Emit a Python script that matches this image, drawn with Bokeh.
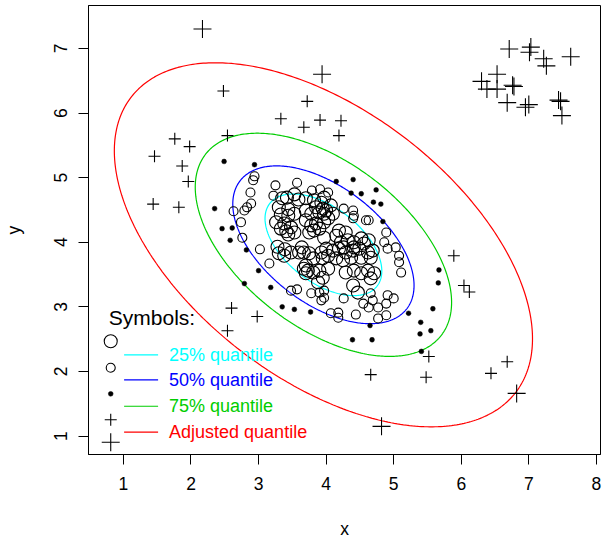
import math
from bokeh.plotting import figure
from bokeh.models import Range1d, FixedTicker, Label
from bokeh.embed import file_html
from bokeh.resources import INLINE

# ---- data ----
big_circle_x = [3.35, 3.42, 3.53, 3.59, 3.70, 3.82, 3.93, 3.85, 3.95, 3.30, 3.44, 3.33, 3.44, 3.53, 3.70,
                3.78, 3.90, 3.26, 3.38, 3.33, 3.41, 3.48, 3.53, 3.44, 3.70, 3.78, 3.85, 3.82, 3.90, 3.75,
                3.97, 3.97, 3.28, 3.39, 3.64, 3.97, 4.07, 4.00, 4.10, 4.03, 3.97, 4.19, 4.29, 4.15, 4.22,
                4.32, 4.41, 4.26, 4.41, 4.56, 4.52, 4.63, 4.00, 4.10, 4.19, 4.29, 4.40, 4.49, 4.62, 4.69,
                4.03, 4.15, 4.25, 4.37, 4.52, 4.66, 4.03, 4.29, 4.41, 4.52, 4.62, 4.71, 4.66, 4.40, 4.47,
                3.30, 3.38, 3.48, 3.60, 3.67, 3.75, 3.93, 3.95, 3.81, 3.70, 3.67, 3.73, 3.70, 3.81, 3.90,
                3.95, 3.88]
big_circle_y = [4.68, 4.69, 4.74, 4.66, 4.68, 4.65, 4.61, 4.54, 4.52, 4.54, 4.51, 4.43, 4.41, 4.44, 4.49,
                4.44, 4.46, 4.31, 4.29, 4.21, 4.17, 4.23, 4.15, 4.12, 4.34, 4.26, 4.29, 4.18, 4.21, 4.15,
                4.44, 4.07, 3.93, 3.89, 3.92, 4.69, 4.57, 4.49, 4.44, 4.37, 4.31, 4.18, 4.15, 4.10, 4.00,
                4.03, 4.00, 3.92, 3.92, 3.98, 4.06, 4.03, 3.90, 3.87, 3.90, 3.84, 3.87, 3.90, 3.84, 3.87,
                3.79, 3.75, 3.72, 3.76, 3.76, 3.76, 3.59, 3.53, 3.56, 3.52, 3.56, 3.52, 3.44, 3.33, 3.22,
                3.83, 3.79, 3.84, 3.84, 3.84, 3.83, 3.84, 3.75, 3.75, 3.64, 3.59, 3.56, 3.52, 3.53, 3.56,
                3.45, 3.38]

small_circle_x = [2.94, 2.92, 2.88, 2.89, 2.83, 2.79, 2.63, 2.74, 2.76, 3.02, 3.25, 3.57, 3.79, 3.91, 3.22,
                  4.03, 4.26, 4.40, 4.41, 4.40, 4.59, 4.63, 4.89, 4.86, 4.91, 5.03, 5.08, 5.08, 5.11, 3.97,
                  3.97, 4.26, 4.66, 4.69, 4.63, 4.55, 4.91, 5.00, 4.89, 4.77, 4.07, 4.18, 4.18, 4.44, 4.77,
                  4.89, 3.48, 3.57, 3.78, 3.90, 3.93, 3.16]
small_circle_y = [5.02, 4.96, 4.77, 4.60, 4.54, 4.49, 4.48, 4.31, 4.07, 3.89, 4.88, 4.92, 4.80, 4.82, 4.72,
                  4.77, 4.52, 4.49, 4.41, 4.37, 4.34, 4.34, 4.15, 4.00, 3.90, 3.92, 3.79, 3.69, 3.53, 3.25,
                  3.14, 3.13, 3.21, 3.10, 2.99, 3.05, 3.18, 3.13, 3.05, 2.99, 2.90, 2.91, 2.83, 2.88, 2.82,
                  2.87, 3.25, 3.27, 3.21, 3.22, 3.10, 3.67]

dot_x = [2.49, 2.94, 4.15, 2.35, 2.46, 2.61, 2.58, 2.82, 4.40, 4.37, 4.52, 4.74, 4.70, 4.81, 4.84, 3.00,
         2.79, 3.18, 3.35, 3.53, 3.77, 5.67, 5.66, 5.58, 5.22, 5.40, 5.55, 5.39, 5.41, 4.65, 4.39, 4.68]
dot_y = [5.25, 5.20, 4.94, 4.52, 4.21, 4.22, 4.03, 3.88, 4.97, 4.76, 4.75, 4.81, 4.62, 4.59, 4.32, 3.56,
         3.36, 3.30, 3.00, 2.96, 2.92, 3.57, 3.37, 2.97, 2.90, 2.76, 2.63, 2.58, 2.31, 2.71, 2.49, 2.49]

small_plus_x = [2.48, 3.72, 3.33, 3.67, 3.91, 4.22, 4.19, 2.54, 1.76, 1.98, 1.46, 1.87, 1.96, 1.44, 1.82,
                2.60, 2.98, 2.54, 6.04, 6.12, 5.52, 6.68, 6.44, 4.66, 5.48, 5.89]
small_plus_y = [6.34, 6.18, 5.91, 5.78, 5.89, 5.88, 5.65, 5.65, 5.60, 5.48, 5.33, 5.18, 4.94, 4.59, 4.54,
                2.98, 2.85, 2.63, 3.33, 3.23, 2.23, 2.15, 1.97, 1.95, 1.91, 3.79]

big_plus_x = [2.17, 3.94, 6.71, 7.03, 7.01, 7.22, 7.26, 7.62, 6.30, 6.38, 6.53, 6.53, 6.76, 6.78, 6.68,
              6.95, 7.00, 7.44, 7.47, 7.49, 6.82, 4.82]
big_plus_y = [7.30, 6.60, 6.99, 7.02, 6.94, 6.84, 6.73, 6.87, 6.49, 6.37, 6.60, 6.37, 6.43, 6.41, 6.16,
              6.09, 6.13, 6.20, 6.18, 5.96, 1.66, 1.15]

# robust location / scatter used for the quantile ellipses
center = [3.96, 3.96]
cov = [[1.298, -0.610], [-0.610, 1.076]]
quantile_probs = [0.25, 0.50, 0.75, 0.975]
quantile_labels = ["25% quantile", "50% quantile", "75% quantile", "Adjusted quantile"]
quantile_colors = ["#00FFFF", "#0000FF", "#00CD00", "#FF0000"]

x_ticks = [1, 2, 3, 4, 5, 6, 7, 8]
y_ticks = [1, 2, 3, 4, 5, 6, 7]

FONT = "Liberation Sans"
FS = "17.5px"
BIG_C, SMALL_C, DOT = 13, 9, 4.8

p = figure(width=605, height=544,
           x_range=Range1d(0.483, 8.061), y_range=Range1d(0.714, 7.664),
           output_backend="svg", toolbar_location=None,
           min_border_left=87, min_border_right=5, min_border_top=5, min_border_bottom=90)
p.background_fill_color = "white"
p.border_fill_color = "white"
p.outline_line_color = "black"
p.outline_line_width = 1
p.xgrid.visible = False
p.ygrid.visible = False

for ax, ticks, lab in ((p.xaxis, x_ticks, "x"), (p.yaxis, y_ticks, "y")):
    ax.ticker = FixedTicker(ticks=ticks)
    ax.minor_tick_line_color = None
    ax.major_tick_in = 0
    ax.major_tick_out = 10
    ax.major_tick_line_color = "black"
    ax.axis_line_color = "black"
    ax.major_label_text_font = FONT
    ax.major_label_text_font_size = FS
    ax.major_label_text_color = "black"
    ax.axis_label = lab
    ax.axis_label_text_font = FONT
    ax.axis_label_text_font_size = FS
    ax.axis_label_text_font_style = "normal"
    ax.axis_label_text_color = "black"

p.xaxis.major_label_standoff = 12
p.xaxis.axis_label_standoff = 26
p.yaxis.major_label_orientation = "vertical"
p.yaxis.major_label_standoff = 11
p.yaxis.axis_label_standoff = 28

# ellipses (Mahalanobis distance contours at chi-square(2) quantiles)
l11 = math.sqrt(cov[0][0])
l21 = cov[1][0] / l11
l22 = math.sqrt(cov[1][1] - l21 ** 2)
n = 400
for prob, col in zip(quantile_probs, quantile_colors):
    r = math.sqrt(-2.0 * math.log(1.0 - prob))
    ex, ey = [], []
    for i in range(n + 1):
        t = 2 * math.pi * i / n
        u, v = math.cos(t), math.sin(t)
        ex.append(center[0] + r * l11 * u)
        ey.append(center[1] + r * (l21 * u + l22 * v))
    p.line(ex, ey, line_color=col, line_width=1.2)

# points
p.scatter(big_circle_x, big_circle_y, marker="circle", size=BIG_C, fill_color=None, line_color="black", line_width=1.1)
p.scatter(small_circle_x, small_circle_y, marker="circle", size=SMALL_C, fill_color=None, line_color="black", line_width=1.1)
p.scatter(dot_x, dot_y, marker="circle", size=DOT, fill_color="black", line_color="black", line_width=0.5)
p.scatter(small_plus_x, small_plus_y, marker="cross", size=12, line_color="black", line_width=1.1)
p.scatter(big_plus_x, big_plus_y, marker="cross", size=18, line_color="black", line_width=1.1)

# legend (drawn like R's two-column legend)
leg_sym_x = 0.812
leg_sym_y = [2.468, 2.056, 1.653, 1.251, 0.904]
p.scatter([leg_sym_x], [leg_sym_y[0]], marker="circle", size=BIG_C, fill_color=None, line_color="black", line_width=1.1)
p.scatter([leg_sym_x], [leg_sym_y[1]], marker="circle", size=SMALL_C, fill_color=None, line_color="black", line_width=1.1)
p.scatter([leg_sym_x], [leg_sym_y[2]], marker="circle", size=DOT, fill_color="black", line_color="black", line_width=0.5)
p.scatter([leg_sym_x], [leg_sym_y[3]], marker="cross", size=12, line_color="black", line_width=1.1)
p.scatter([leg_sym_x], [leg_sym_y[4]], marker="cross", size=18, line_color="black", line_width=1.1)

p.add_layout(Label(x=0.783, y=2.834, text="Symbols:", text_font=FONT, text_font_size="21px",
                   text_color="black", text_baseline="middle", text_align="left"))
leg_line_y = [2.257, 1.870, 1.461, 1.059]
for yy, lab, col in zip(leg_line_y, quantile_labels, quantile_colors):
    p.line([1.010, 1.513], [yy, yy], line_color=col, line_width=1.2)
    p.add_layout(Label(x=1.675, y=yy, text=lab, text_font=FONT, text_font_size="18px",
                       text_color=col, text_baseline="middle", text_align="left"))

open("out.html", "w").write(file_html(p, INLINE))
